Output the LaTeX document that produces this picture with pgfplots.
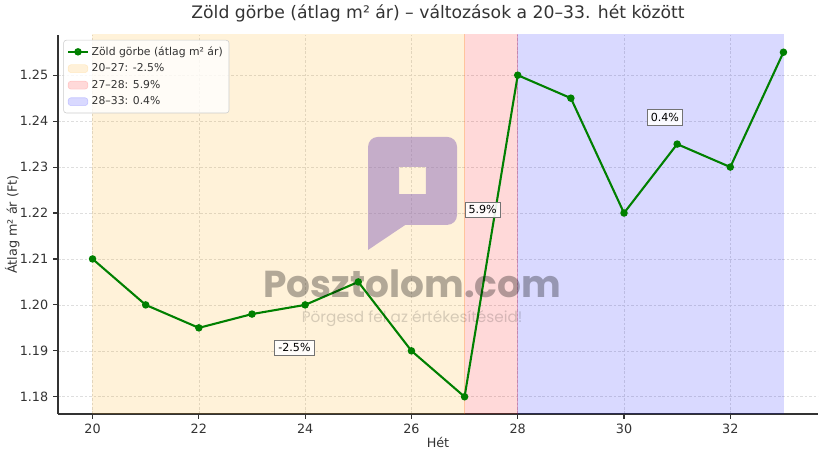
\documentclass[border=0pt]{standalone}
\usepackage{fontspec}
\setmainfont{DejaVu Sans}
\newfontfamily\wmfont{Poppins}
\usepackage{pgfplots}
\pgfplotsset{compat=1.18}

\definecolor{mplgreen}{RGB}{0,128,0}
\definecolor{mplorange}{RGB}{255,165,0}
\definecolor{mplred}{RGB}{255,0,0}
\definecolor{mplblue}{RGB}{0,0,255}
\definecolor{logo}{RGB}{140,105,185}
\definecolor{txt}{RGB}{51,51,51}

\begin{document}
\begin{tikzpicture}
\begin{axis}[
    name=ax,
    scale only axis,
    width=547.2pt, height=272.88pt,
    xmin=19.35, xmax=33.65,
    ymin=1.17625, ymax=1.25875,
    axis x line=bottom, axis y line=left,
    axis line style={-, draw=txt, line width=0.8pt},
    xtick={20,22,24,26,28,30,32},
    ytick={1.18,1.19,1.20,1.21,1.22,1.23,1.24,1.25},
    yticklabel style={/pgf/number format/.cd, fixed, fixed zerofill, precision=2},
    /pgf/number format/assume math mode=true,
    tick label style={font=\fontsize{9.2}{10}\selectfont, text=txt},
    tick align=outside, major tick length=3.5pt,
    tick style={txt, line width=0.8pt},
    grid=major,
    major grid style={dash pattern=on 1.8pt off 1.4pt, black!13, line width=0.45pt},
    title={Zöld görbe (átlag m² ár) – változások a 20–33. hét között},
    title style={at={(0.5,1)}, anchor=base, yshift=6pt, font=\fontsize{12.4}{14}\selectfont, text=txt},
    xlabel={Hét},
    xlabel style={at={(0.5,-0.048)}, anchor=north, font=\fontsize{9.2}{10}\selectfont, text=txt},
    ylabel={Átlag m² ár (Ft)},
    ylabel style={at={(-0.044,0.5)}, anchor=south, font=\fontsize{9.2}{10}\selectfont, text=txt},
    legend style={at={(0.007,0.987)}, anchor=north west,
        font=\fontsize{7.8}{9}\selectfont, text=txt,
        draw=black!20, rounded corners=2pt, fill=white, fill opacity=0.8, text opacity=1,
        row sep=0.6pt, inner sep=2.5pt},
    legend cell align=left,
    legend image code/.code={\draw[#1] (0cm,-0.1cm) rectangle (0.5cm,0.1cm);},
]
% legend entry for the line comes first
\addlegendimage{mplgreen, line width=1.5pt, mark=*, mark size=2pt,
    legend image code/.code={\draw[mplgreen, line width=1.5pt] (0cm,0cm) -- (0.5cm,0cm);
    \fill[mplgreen] (0.25cm,0cm) circle (1.9pt);}}
\addlegendentry{Zöld görbe (átlag m² ár)}

% szakaszok
\addplot[fill=mplorange, fill opacity=0.15, draw=mplorange, draw opacity=0.15]
    coordinates {(20,1.17) (27,1.17) (27,1.27) (20,1.27)} -- cycle;
\addlegendentry{20–27: -2.5\%}
\addplot[fill=mplred, fill opacity=0.15, draw=mplred, draw opacity=0.15]
    coordinates {(27,1.17) (28,1.17) (28,1.27) (27,1.27)} -- cycle;
\addlegendentry{27–28: 5.9\%}
\addplot[fill=mplblue, fill opacity=0.15, draw=mplblue, draw opacity=0.15]
    coordinates {(28,1.17) (33,1.17) (33,1.27) (28,1.27)} -- cycle;
\addlegendentry{28–33: 0.4\%}

% adatsor (millió Ft)
\addplot[mplgreen, line width=1.5pt, mark=*, mark size=1.9pt,
    mark options={fill=mplgreen}, forget plot] coordinates {
    (20,1.210) (21,1.200) (22,1.195) (23,1.198) (24,1.200) (25,1.205)
    (26,1.190) (27,1.180) (28,1.250) (29,1.245) (30,1.220) (31,1.235)
    (32,1.230) (33,1.255)};

% százalékos címkék
\node[draw=black!55, fill=white, fill opacity=0.9, text opacity=1, inner sep=2.6pt,
    font=\fontsize{8}{9}\selectfont, text=black] at (axis cs:23.8,1.1907) {-2.5\%};
\node[draw=black!55, fill=white, fill opacity=0.9, text opacity=1, inner sep=2.6pt,
    font=\fontsize{8}{9}\selectfont, text=black] at (axis cs:27.34,1.2207) {5.9\%};
\node[draw=black!55, fill=white, fill opacity=0.9, text opacity=1, inner sep=2.6pt,
    font=\fontsize{8}{9}\selectfont, text=black] at (axis cs:30.77,1.2409) {0.4\%};

% vízjel
\fill[logo, opacity=0.5, even odd rule]
    [rounded corners=7pt] (rel axis cs:0.408,0.433) -- (rel axis cs:0.408,0.731)
    -- (rel axis cs:0.525,0.731) -- (rel axis cs:0.525,0.499)
    [sharp corners] -- (rel axis cs:0.457,0.499) -- cycle
    (rel axis cs:0.449,0.580) rectangle (rel axis cs:0.484,0.652);
\node[font=\wmfont\bfseries\fontsize{27}{30}\selectfont, text=black, opacity=0.3]
    at (rel axis cs:0.466,0.343) {Posztolom.com};
\node[font=\wmfont\fontsize{11}{13}\selectfont, text=black, opacity=0.16]
    at (rel axis cs:0.466,0.253) {Pörgesd fel az értékesítéseid!};

\node[anchor=base west, font=\fontsize{9.2}{10}\selectfont, text=txt, inner sep=0pt]
    at (rel axis cs:0,1) [yshift=3pt] {1e6};
\end{axis}
\pgfresetboundingbox
\path ([xshift=-41.76pt,yshift=-36pt]ax.south west) rectangle ([xshift=5.04pt,yshift=25.2pt]ax.north east);
\end{tikzpicture}
\end{document}
